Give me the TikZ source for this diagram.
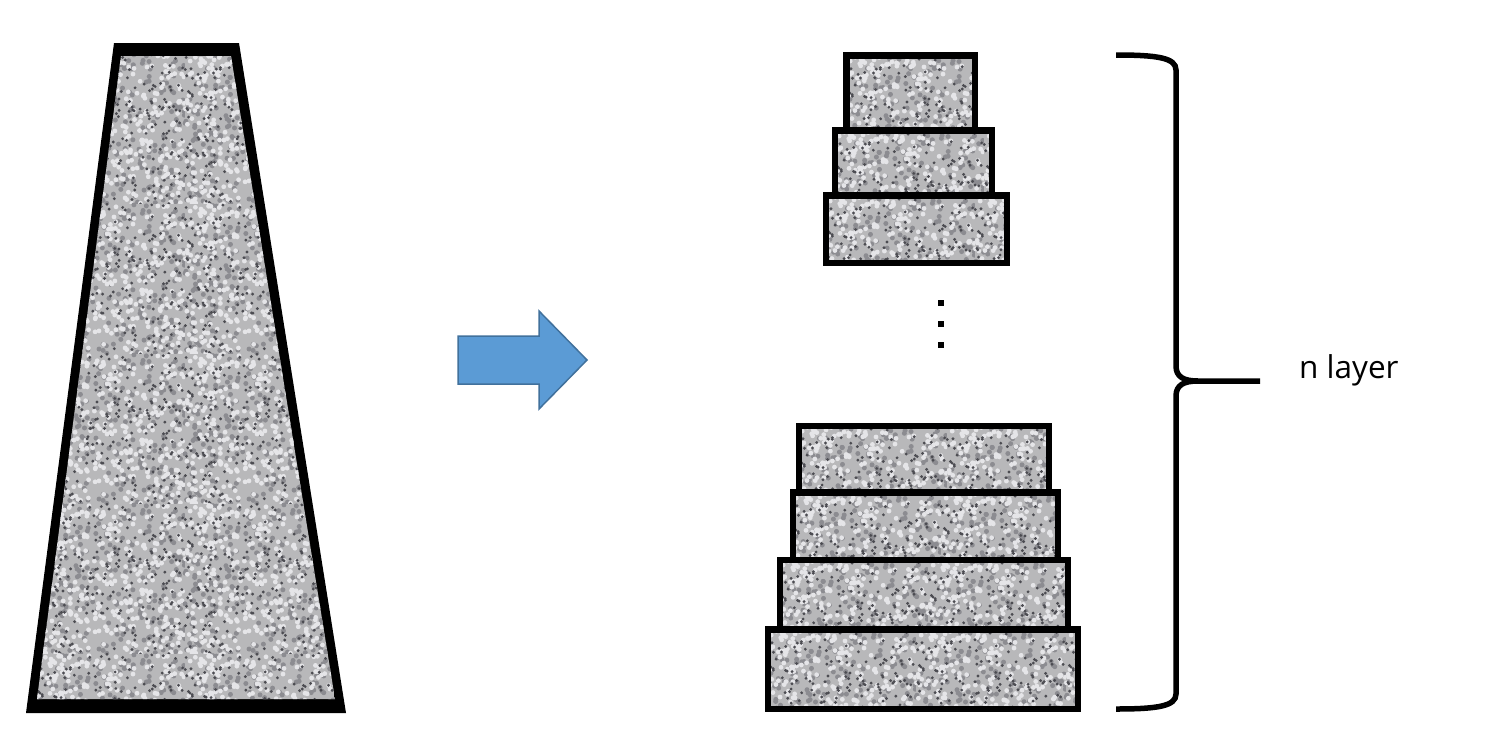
\documentclass[tikz,border=0pt]{standalone}
\usepackage{fontspec}
\newfontfamily\labelfont{Open Sans}
\definecolor{arrowfill}{HTML}{5B9BD5}
\definecolor{arrowline}{HTML}{41719C}
\definecolor{nzbase}{rgb}{0.72,0.72,0.73}
\definecolor{nzdark}{rgb}{0.30,0.30,0.32}
\definecolor{nzmid}{rgb}{0.55,0.55,0.57}
\definecolor{nzlight}{rgb}{0.90,0.90,0.91}
\newsavebox\tilebox
\newcommand\nzdots[3]{% colour, count, radius
  \pgfsetfillcolor{#1}%
  \foreach \k in {1,...,#2}{%
    \pgfmathsetmacro\ax{rnd*150}\pgfmathsetmacro\ay{rnd*150}%
    \pgfpathcircle{\pgfpoint{\ax pt}{\ay pt}}{#3}\pgfusepath{fill}}}
\newcommand\tilefill[5]{% clip path, x0, y0, nx, ny
  \begin{scope}
    \clip #1;
    \foreach \i in {1,...,#4}{\foreach \j in {1,...,#5}{%
      \node[inner sep=0pt, outer sep=0pt, anchor=north west] at ({#2+150*(\i-1)},{#3+150*(\j-1)}) {\usebox\tilebox};}}
  \end{scope}}
\tikzset{
  layerbox/.style={draw=black, line width=6.5pt, line join=miter},
  bracestyle/.style={draw=black, line width=5.5pt},
}
\begin{document}
\pgfmathsetseed{4242}%
\sbox\tilebox{\begin{pgfpicture}%
  \pgfpathrectangle{\pgfpointorigin}{\pgfqpoint{150pt}{150pt}}\pgfusepath{use as bounding box}%
  \pgfsetfillcolor{nzbase}%
  \pgfpathrectangle{\pgfpointorigin}{\pgfqpoint{150pt}{150pt}}\pgfusepath{fill}%
  \nzdots{nzmid}{260}{2.5pt}%
  \nzdots{nzlight}{380}{2.4pt}%
  \nzdots{nzdark}{230}{1.6pt}%
\end{pgfpicture}}%
\begin{tikzpicture}[x=1pt,y=-1pt]
\useasboundingbox (0,0) rectangle (1500,750);
\fill[white] (0,0) rectangle (1500,750);

% left trapezoid
\fill[black] (114,43) -- (239,43) -- (346,713) -- (26,713) -- cycle;
\tilefill{(121,56) -- (231,56) -- (335,699) -- (37,699) -- cycle}{35}{54}{3}{5}

% arrow
\draw[fill=arrowfill, draw=arrowline, line width=1.5pt, line join=miter]
  (458,336) -- (539,336) -- (539,311) -- (587,360) -- (539,409) -- (539,384) -- (458,384) -- cycle;

% top stack
\tilefill{(846.5,55.5) rectangle (975,130.5)}{845}{54}{1}{1}
\tilefill{(835,130.5) rectangle (992,195.5)}{834}{129}{2}{1}
\tilefill{(826,195.5) rectangle (1007,263)}{825}{194}{2}{1}
\draw[layerbox] (846.5,55.5) rectangle (975,130.5);
\draw[layerbox] (835,130.5) rectangle (992,195.5);
\draw[layerbox] (826,195.5) rectangle (1007,263);

% ellipsis
\fill[black] (938,300) rectangle ++(6,6);
\fill[black] (938,321) rectangle ++(6,6);
\fill[black] (938,342) rectangle ++(6,6);

% bottom stack
\tilefill{(799,426) rectangle (1049,492.5)}{797}{424}{2}{1}
\tilefill{(793,492.5) rectangle (1058,560)}{791}{491}{2}{1}
\tilefill{(780,560) rectangle (1068,629.5)}{778}{558}{2}{1}
\tilefill{(768,629.5) rectangle (1078,709)}{766}{628}{3}{1}
\draw[layerbox] (799,426) rectangle (1049,492.5);
\draw[layerbox] (793,492.5) rectangle (1058,560);
\draw[layerbox] (780,560) rectangle (1068,629.5);
\draw[layerbox] (768,629.5) rectangle (1078,709);

% brace
\coordinate (btop) at (1116,55);
\coordinate (bmid) at (1198,381);
\coordinate (btip) at (1260,381);
\coordinate (bbot) at (1116,709);
\draw[bracestyle] (btop) .. controls (1158,55) and (1176,58) .. (1176,70)
  -- (1176,366) .. controls (1176,377) and (1184,381) .. (bmid) -- (btip);
\draw[bracestyle] (bmid) .. controls (1184,381) and (1176,385) .. (1176,396)
  -- (1176,694) .. controls (1176,706) and (1158,709) .. (bbot);

% label
\node[anchor=base west, inner sep=0pt, font=\labelfont\fontsize{31.5}{38}\selectfont] (lbl) at (1299,378) {n layer};
\end{tikzpicture}
\end{document}
